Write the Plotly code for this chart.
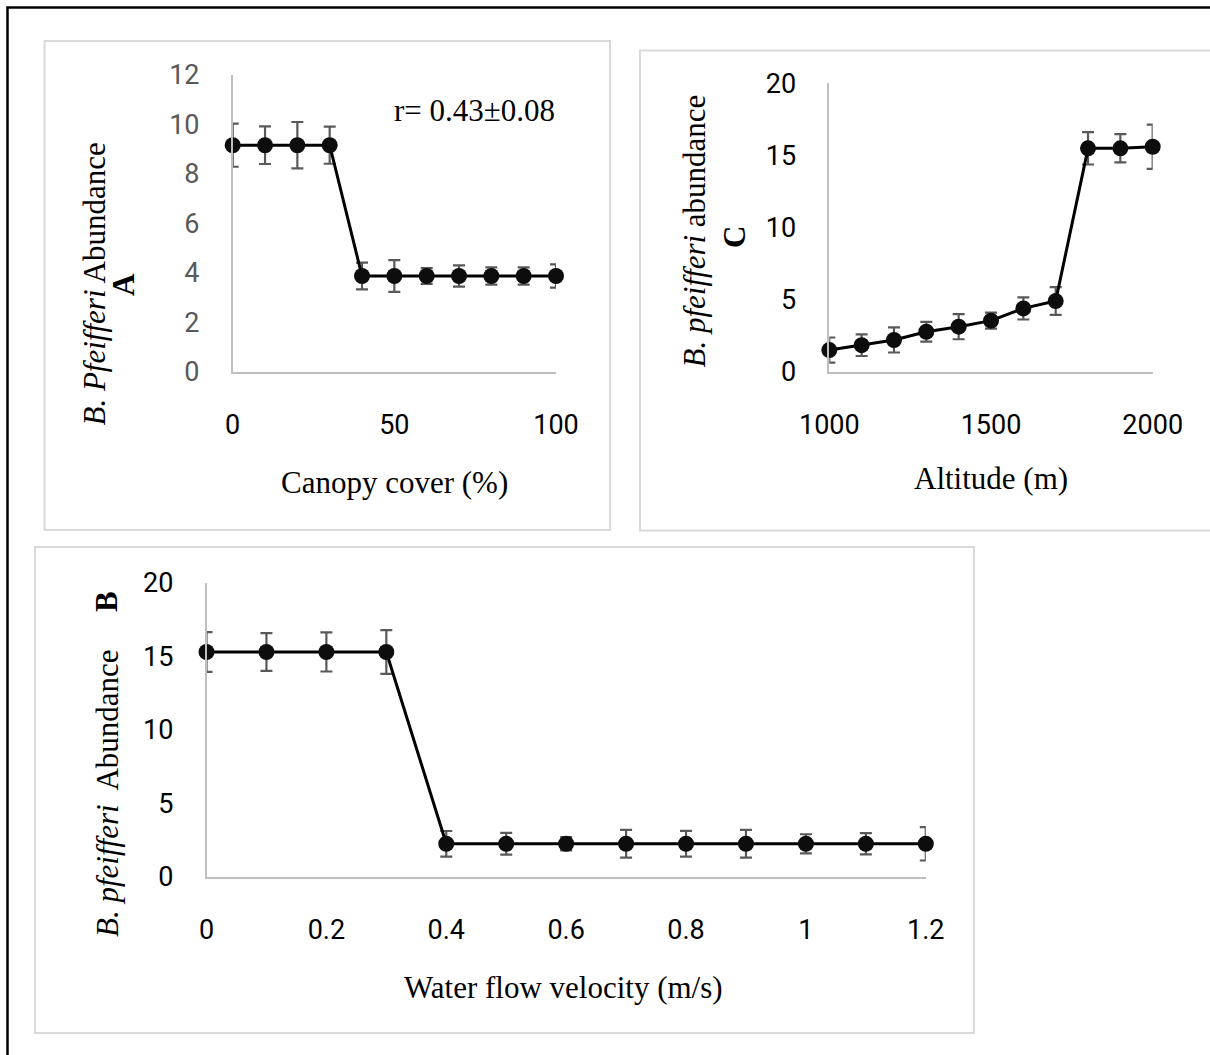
import plotly.graph_objects as go

W, H = 1210, 1055

# ---------------- data ----------------
canopy = [0, 10, 20, 30, 40, 50, 60, 70, 80, 90, 100]
canopy_abund = [9.16, 9.16, 9.16, 9.16, 3.87, 3.87, 3.87, 3.87, 3.87, 3.87, 3.87]
canopy_err = [0.87, 0.76, 0.94, 0.75, 0.54, 0.64, 0.32, 0.43, 0.35, 0.35, 0.47]

altitude = [1000, 1100, 1200, 1300, 1400, 1500, 1600, 1700, 1800, 1900, 2000]
alt_abund = [1.5, 1.84, 2.2, 2.77, 3.12, 3.54, 4.39, 4.9, 15.49, 15.49, 15.6]
alt_err = [0.87, 0.75, 0.87, 0.69, 0.87, 0.55, 0.77, 0.96, 1.12, 0.98, 1.53]

velocity = [0, 0.1, 0.2, 0.3, 0.4, 0.5, 0.6, 0.7, 0.8, 0.9, 1.0, 1.1, 1.2]
vel_abund = [15.3, 15.3, 15.3, 15.3, 2.23, 2.23, 2.23, 2.23, 2.23, 2.23, 2.23, 2.23, 2.23]
vel_err = [1.35, 1.29, 1.33, 1.49, 0.87, 0.74, 0.45, 0.95, 0.88, 0.95, 0.65, 0.72, 1.14]


def px(x):
    return x / W


def py(y):
    return 1 - y / H


SERIF = "Liberation Serif, Times New Roman, serif"
SANS = "Roboto, Calibri, sans-serif"

fig = go.Figure()


def add_series(x, y, err, xa, ya):
    fig.add_trace(go.Scatter(
        x=x, y=y, xaxis=xa, yaxis=ya, mode="lines+markers",
        line=dict(color="#000000", width=3),
        marker=dict(color="#0d0d0d", size=16),
        error_y=dict(type="data", array=err, visible=True,
                     color="#595959", thickness=2.2, width=6),
        cliponaxis=False, showlegend=False, hoverinfo="skip",
    ))


add_series(canopy, canopy_abund, canopy_err, "x", "y")
add_series(altitude, alt_abund, alt_err, "x2", "y2")
add_series(velocity, vel_abund, vel_err, "x3", "y3")

axis_common = dict(showline=True, linecolor="#BFBFBF", linewidth=1.5,
                   showgrid=False, zeroline=False, ticks="",
                   automargin=False, fixedrange=True)

fig.update_layout(
    width=W, height=H,
    margin=dict(l=0, r=0, t=0, b=0, autoexpand=False),
    paper_bgcolor="white", plot_bgcolor="white",
    showlegend=False,
    xaxis=dict(domain=[px(232.7), px(556)], range=[0, 100], tickvals=[0, 50, 100],
               anchor="y", tickfont=dict(family=SANS, size=27, color="#000000"),
               ticklabelstandoff=28, **axis_common),
    yaxis=dict(domain=[py(371.7), py(75)], range=[0, 12], dtick=2,
               anchor="x", tickfont=dict(family=SANS, size=27, color="#595959"),
               ticklabelstandoff=26, **axis_common),
    xaxis2=dict(domain=[px(829.3), px(1152.7)], range=[1000, 2000], dtick=500,
                anchor="y2", tickfont=dict(family=SANS, size=27, color="#000000"),
                ticklabelstandoff=28, **axis_common),
    yaxis2=dict(domain=[py(371.7), py(83.3)], range=[0, 20], dtick=5,
                anchor="x2", tickfont=dict(family=SANS, size=27, color="#000000"),
                ticklabelstandoff=26, **axis_common),
    xaxis3=dict(domain=[px(206.5), px(925.8)], range=[0, 1.2], dtick=0.2,
                anchor="y3", tickfont=dict(family=SANS, size=27, color="#000000"),
                ticklabelstandoff=28, **axis_common),
    yaxis3=dict(domain=[py(876.5), py(583)], range=[0, 20], dtick=5,
                anchor="x3", tickfont=dict(family=SANS, size=27, color="#000000"),
                ticklabelstandoff=26, **axis_common),
)

# panel frames and outer border
shapes = [
    dict(type="rect", xref="paper", yref="paper",
         x0=px(7.5), x1=px(1230), y0=py(7.5), y1=py(1075),
         line=dict(color="#000000", width=2.5), fillcolor="rgba(0,0,0,0)"),
    dict(type="rect", xref="paper", yref="paper",
         x0=px(44.5), x1=px(610), y0=py(41), y1=py(530),
         line=dict(color="#D9D9D9", width=2), fillcolor="rgba(0,0,0,0)"),
    dict(type="rect", xref="paper", yref="paper",
         x0=px(640), x1=px(1225), y0=py(50.5), y1=py(530.5),
         line=dict(color="#D9D9D9", width=2), fillcolor="rgba(0,0,0,0)"),
    dict(type="rect", xref="paper", yref="paper",
         x0=px(35), x1=px(974), y0=py(547), y1=py(1033),
         line=dict(color="#D9D9D9", width=2), fillcolor="rgba(0,0,0,0)"),
]
fig.update_layout(shapes=shapes)


def ann(text, x, y, size=31, angle=0):
    fig.add_annotation(text=text, xref="paper", yref="paper", x=px(x), y=py(y),
                       xanchor="center", yanchor="middle", showarrow=False,
                       textangle=angle, font=dict(family=SERIF, size=size, color="#000000"))


# panel A
ann("Canopy cover (%)", 394, 483)
ann("<i>B. Pfeifferi</i> Abundance", 93.5, 284, angle=-90)
ann("<b>A</b>", 123, 285, angle=-90)
ann("r= 0.43±0.08", 474, 111)
# panel C
ann("Altitude (m)", 991, 478)
ann("<i>B. pfeifferi</i> abundance", 693.5, 231, angle=-90)
ann("<b>C</b>", 734, 237, angle=-90)
# panel B
ann("Water flow velocity (m/s)", 563, 987)
ann("<i>B. pfeifferi</i>  Abundance", 107, 793, angle=-90)
ann("<b>B</b>", 106, 602, angle=-90)

fig.write_html("out.html", config={"displayModeBar": False, "responsive": False},
               post_script="document.body.style.margin='0';")
